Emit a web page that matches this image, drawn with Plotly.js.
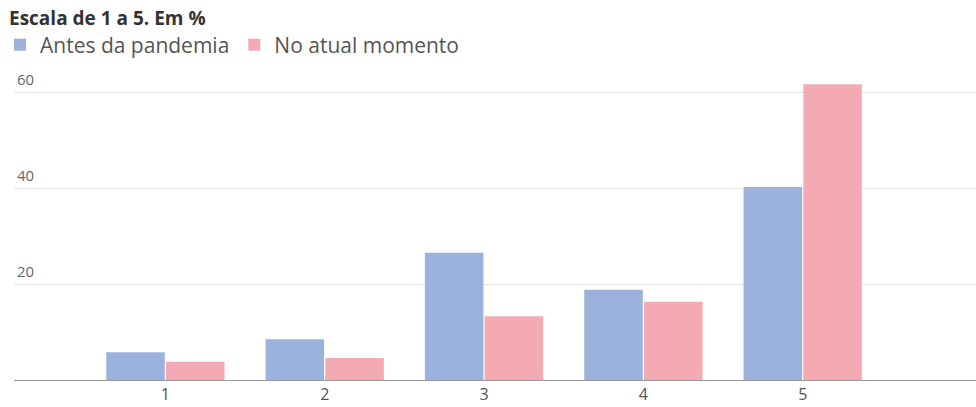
<!DOCTYPE html>
<html>
<head>
<meta charset="utf-8">
<script src="https://cdn.plot.ly/plotly-3.0.1.min.js"></script>
<style>html,body{margin:0;padding:0;background:#fff;}#chart{width:976px;height:407px;}</style>
</head>
<body>
<div id="chart"></div>
<script>
const categories = ["1", "2", "3", "4", "5"];
const antes = [5.8, 8.5, 26.5, 18.8, 40.2];
const atual = [3.8, 4.6, 13.3, 16.3, 61.6];
const seriesNames = ["Antes da pandemia", "No atual momento"];
const yTicks = [20, 40, 60];
const yTickText = ["20", "40", "60"];

const font = "'Open Sans', 'Noto Sans', sans-serif";

const traces = [
  {type: "bar", x: categories, y: antes, name: seriesNames[0],
   marker: {color: "#9bb2dd"}, hoverinfo: "y"},
  {type: "bar", x: categories, y: atual, name: seriesNames[1],
   marker: {color: "#f4aab3"}, hoverinfo: "y"}
];

const plotTop = 55, plotBottom = 380;

const layout = {
  width: 976, height: 407,
  margin: {l: 10, r: 0, t: plotTop, b: 407 - plotBottom, pad: 0},
  paper_bgcolor: "#fff", plot_bgcolor: "#fff",
  font: {family: font, color: "#555"},
  title: {text: "<b>Escala de 1 a 5. Em %</b>", x: 9/976, xanchor: "left", xref: "container",
          y: 1 - 18/407, yanchor: "middle", yref: "container",
          font: {family: font, size: 19, color: "#333"}},
  showlegend: true,
  legend: {orientation: "h", x: -0.015, xanchor: "left", y: 1 + (plotBottom - plotTop - (plotBottom - 45)) / (plotBottom - plotTop) * -1 + 0, yanchor: "middle",
           itemwidth: 30,
           font: {family: font, size: 21, color: "#555"}, traceorder: "normal",
           itemclick: false, bgcolor: "rgba(0,0,0,0)"},
  barmode: "group", bargap: 0.25, bargroupgap: 0.02,
  xaxis: {type: "category", range: [-0.95, 5.0875], showgrid: false,
          showline: true, linecolor: "#999", linewidth: 1, ticks: "",
          tickfont: {family: font, size: 16, color: "#555"}, fixedrange: true},
  yaxis: {range: [0, (plotBottom - plotTop) / 4.8], tickvals: yTicks, ticktext: yTickText,
          showgrid: true, gridcolor: "#e4e4e4", gridwidth: 1, zeroline: false,
          ticklabelposition: "inside", ticklabelshift: -12, ticks: "",
          tickfont: {family: font, size: 15, color: "#666"}, fixedrange: true}
};
// legend centre at y=45px
layout.legend.y = (plotBottom - 45) / (plotBottom - plotTop);

Plotly.newPlot("chart", traces, layout, {displayModeBar: false, staticPlot: true});
</script>
</body>
</html>
